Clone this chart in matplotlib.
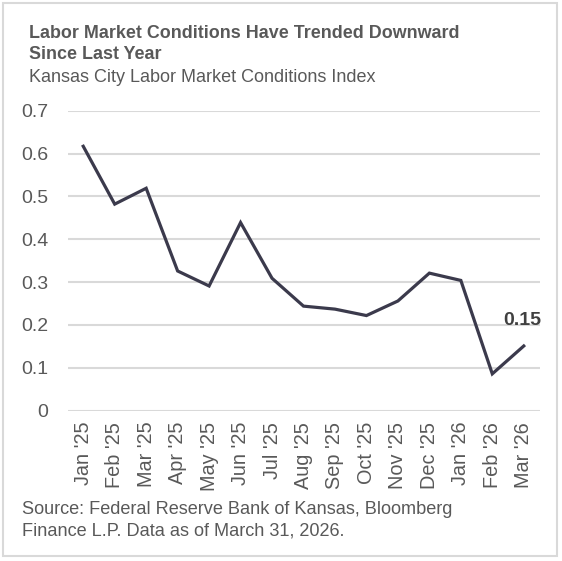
import numpy as np
import matplotlib.pyplot as plt
from matplotlib.patches import Rectangle

months = ["Jan '25", "Feb '25", "Mar '25", "Apr '25", "May '25", "Jun '25", "Jul '25",
          "Aug '25", "Sep '25", "Oct '25", "Nov '25", "Dec '25", "Jan '26", "Feb '26", "Mar '26"]
lmci = [0.617, 0.482, 0.519, 0.326, 0.291, 0.439, 0.309,
        0.244, 0.237, 0.222, 0.256, 0.321, 0.304, 0.086, 0.151]
yticks = [0, 0.1, 0.2, 0.3, 0.4, 0.5, 0.6, 0.7]
ytick_labels = ['0', '0.1', '0.2', '0.3', '0.4', '0.5', '0.6', '0.7']

plt.rcParams['font.family'] = ['Liberation Sans', 'DejaVu Sans']
txt = '#595959'
grid = '#d9d9d9'
line_c = '#3b3a4c'

W, H = 562, 561
fig = plt.figure(figsize=(W / 100, H / 100), dpi=100)

# outer frame
fig.patches.append(Rectangle((3 / W, 5 / H), 554 / W, 553 / H, transform=fig.transFigure,
                             fill=False, edgecolor=grid, linewidth=1.5))

ax = fig.add_axes([67.5 / W, 1 - 410.7 / H, 472 / W, 300 / H])
x = np.arange(len(months))
ax.plot(x, lmci, color=line_c, linewidth=2.3, solid_joinstyle='miter')
ax.set_xlim(-0.5, len(months) - 0.5)
ax.set_ylim(0, 0.7)
ax.set_yticks(yticks)
ax.set_yticklabels(ytick_labels)
ax.set_xticks(x)
ax.set_xticklabels(months, rotation=90)
ax.yaxis.grid(True, color=grid, linewidth=1.5)
ax.set_axisbelow(True)
for s in ax.spines.values():
    s.set_visible(False)
ax.tick_params(axis='both', length=0, colors=txt)
ax.tick_params(axis='y', pad=14, labelsize=14)
ax.tick_params(axis='x', pad=8, labelsize=14.3)

ax.annotate(f'{lmci[-1]:.2f}', (x[-1], lmci[-1]), xytext=(-15, 18), textcoords='offset points',
            ha='left', va='center', fontsize=14, fontweight='bold', color='#404040')

fig.text(29 / W, 1 - 33 / H, 'Labor Market Conditions Have Trended Downward',
         fontsize=12.85, fontweight='bold', color=txt, va='center')
fig.text(29 / W, 1 - 54.5 / H, 'Since Last Year',
         fontsize=12.85, fontweight='bold', color=txt, va='center')
fig.text(29 / W, 1 - 77 / H, 'Kansas City Labor Market Conditions Index',
         fontsize=13, color=txt, va='center')
fig.text(22 / W, 1 - 509 / H, 'Source: Federal Reserve Bank of Kansas, Bloomberg',
         fontsize=13.1, color=txt, va='center')
fig.text(22 / W, 1 - 531 / H, 'Finance L.P. Data as of March 31, 2026.',
         fontsize=13.1, color=txt, va='center')

fig.savefig('out.png', dpi=100)
